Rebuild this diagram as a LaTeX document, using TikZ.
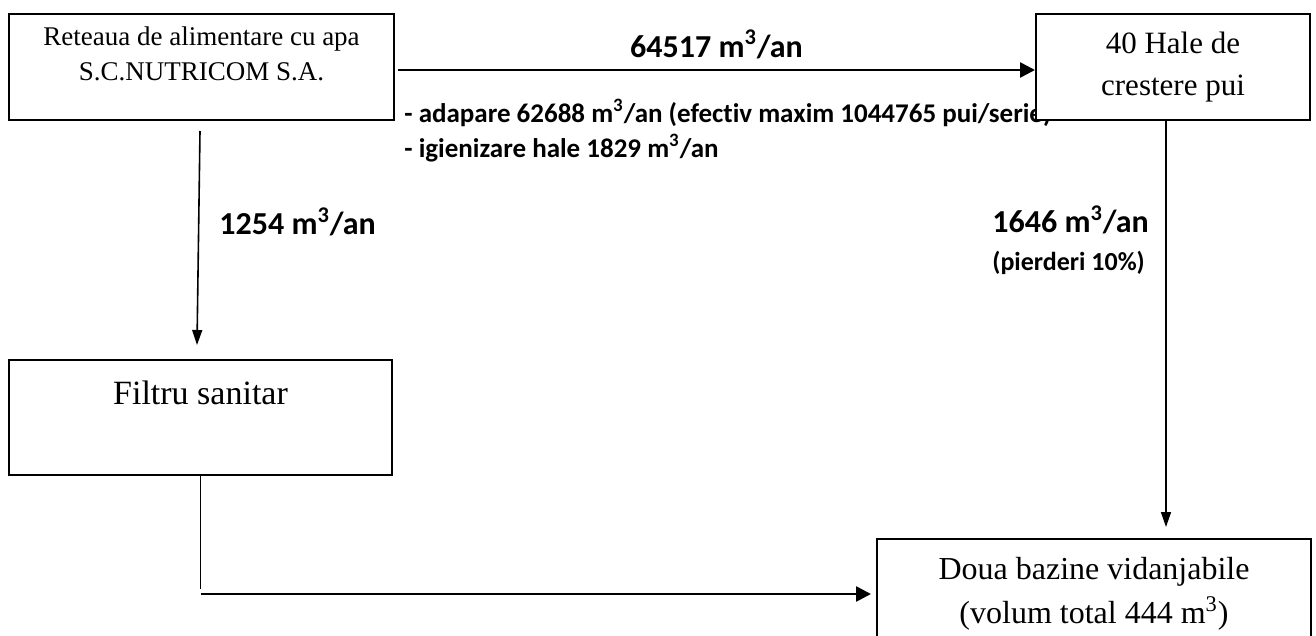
\documentclass[tikz,border=0pt]{standalone}
\usepackage{fontspec}
\setmainfont{Liberation Serif}
\newfontfamily\calibri[Ligatures={NoCommon}]{Carlito}
\usetikzlibrary{positioning,arrows.meta,calc}

\begin{document}
\begin{tikzpicture}[
  x=0.5pt, y=-0.5pt,
  box/.style={draw, line width=1pt, fill=white, align=center, inner sep=2pt, anchor=north west},
  flow/.style={font=\calibri\bfseries\fontsize{16}{19}\selectfont, anchor=west, inner sep=0pt},
  flowsm/.style={font=\calibri\bfseries\fontsize{13}{15}\selectfont, anchor=west, inner sep=0pt},
  note/.style={font=\calibri\bfseries\fontsize{13.5}{17.5}\selectfont, align=left, anchor=west, inner sep=0pt},
  fatarr/.style={-{Triangle[length=7.5pt, width=7.5pt]}, line width=1.3pt},
  slimarr/.style={-{Triangle[length=7.5pt, width=5pt]}, line width=0.8pt},
]
\useasboundingbox (0,0) rectangle (1316,636);
\clip (0,0) rectangle (1316,636);

% ---------- sursa de apa si halele ----------
\node[box, minimum width=192.5pt, minimum height=53pt, font=\fontsize{13.5}{17.5}\selectfont] (retea) at (8,13)
  {Reteaua de alimentare cu apa\\S.C.NUTRICOM S.A.\rule[-13.5pt]{0pt}{13.5pt}};
\node[note] (uses) at (404,130.5)
  {- adapare 62688 m\textsuperscript{3}/an (efectiv maxim 1044765 pui/serie)\\- igienizare hale 1829 m\textsuperscript{3}/an};
\node[box, minimum width=137pt, minimum height=53pt, font=\fontsize{15.5}{21}\selectfont] (hale) at (1035,13)
  {40 Hale de\\crestere pui\rule[-3pt]{0pt}{3pt}};
\draw[fatarr] ([shift={(3,3)}]retea.east) -- ([yshift=-1.5pt]hale.west)
  node[flow, midway, above=5pt, anchor=south] (q64517) {64517 m\textsuperscript{3}/an};

% ---------- filtru sanitar ----------
\node[box, minimum width=191.5pt, minimum height=57.5pt, font=\fontsize{17}{21}\selectfont] (filtru) at (8,359)
  {Filtru sanitar\rule[-24.5pt]{0pt}{24.5pt}};
\draw[slimarr] ([shift={(-1.5,10)}]retea.south) -- ([shift={(-3.5,-14)}]filtru.north);
\node[flow] (q1254) at (219,222) {1254 m\textsuperscript{3}/an};

% ---------- bazine vidanjabile ----------
\node[box, minimum width=217pt, minimum height=55pt, font=\fontsize{16}{22}\selectfont] (bazine) at (876,538)
  {Doua bazine vidanjabile\\(volum total 444 m\textsuperscript{3})};
\coordinate (drop) at ($(hale.south |- bazine.north)+(-7,-11)$);
\draw[slimarr] ([xshift=-3.5pt]hale.south) -- (drop);
\node[flow] (q1646) at (992,220) {1646 m\textsuperscript{3}/an};
\node[flowsm] (loss) at (992,263) {(pierderi 10\%)};

\coordinate (cot) at (filtru.south |- bazine.west);
\draw[line width=0.8pt] (filtru.south) -- ([yshift=2.5pt]cot);
\draw[fatarr] (cot) -- ([xshift=-2.5pt]bazine.west);
\end{tikzpicture}
\end{document}
